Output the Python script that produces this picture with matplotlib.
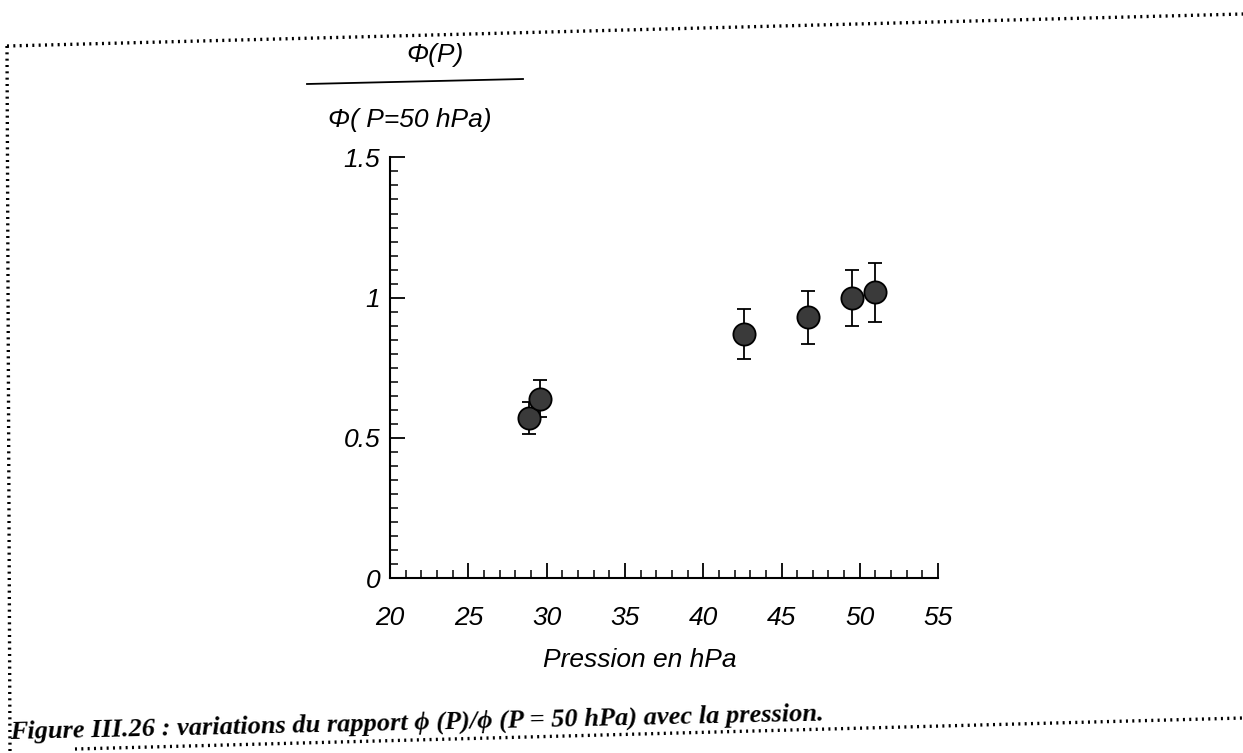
import numpy as np
import matplotlib
matplotlib.use("Agg")
import matplotlib.pyplot as plt
from matplotlib.ticker import MultipleLocator, FixedLocator
from matplotlib.lines import Line2D

# data
pression = [28.9, 29.6, 42.6, 46.7, 49.5, 51.0]
rapport = [0.57, 0.64, 0.87, 0.93, 1.00, 1.02]
erreur = [0.057, 0.065, 0.088, 0.094, 0.100, 0.105]

xticks = [20, 25, 30, 35, 40, 45, 50, 55]
yticks = [0, 0.5, 1, 1.5]
ytick_labels = ["0", "0.5", "1", "1.5"]

sans = ["Liberation Sans", "DejaVu Sans"]
serif = ["Liberation Serif", "DejaVu Serif"]

fig = plt.figure(figsize=(12.43, 7.53), dpi=100)
ax = fig.add_axes([0.3138, 0.232, 0.4409, 0.559])

ax.errorbar(pression, rapport, yerr=erreur, fmt='o', color='black',
            ecolor='black', elinewidth=1.3, capsize=5, capthick=1.3,
            markersize=16, markerfacecolor='#3a3a3a',
            markeredgecolor='black', markeredgewidth=1.3)

ax.set_xlim(20, 55)
ax.set_ylim(0, 1.5)
for s in ['top', 'right']:
    ax.spines[s].set_visible(False)
for s in ['left', 'bottom']:
    ax.spines[s].set_linewidth(1.5)

ax.xaxis.set_major_locator(FixedLocator(xticks))
ax.xaxis.set_minor_locator(MultipleLocator(1))
ax.yaxis.set_major_locator(FixedLocator(yticks))
ax.yaxis.set_minor_locator(MultipleLocator(0.05))
ax.tick_params(which='major', direction='in', length=11, width=1.3)
ax.tick_params(which='minor', direction='in', length=6, width=1.1)
ax.tick_params(axis='x', which='major', pad=20)
ax.tick_params(axis='y', which='major', pad=7)
ax.set_yticklabels(ytick_labels)
for lab in ax.get_xticklabels() + ax.get_yticklabels():
    lab.set_fontfamily(sans)
    lab.set_fontstyle('italic')
    lab.set_fontsize(19)

ax.set_xlabel("Pression en hPa", fontsize=19, style='italic',
              family=sans)
ax.xaxis.set_label_coords(0.455, -0.165)

# y label as a fraction above the axis
fig.text(435 / 1243, 1 - 55 / 753, "Φ(P)", fontsize=19, style='italic',
         family=sans, ha='center', va='center')
fig.add_artist(Line2D([307 / 1243, 523 / 1243],
                      [1 - 84 / 753, 1 - 79 / 753],
                      color='black', lw=1.3))
fig.text(410 / 1243, 1 - 120 / 753, "Φ( P=50 hPa)", fontsize=19,
         style='italic', family=sans, ha='center', va='center')

# dotted frame of the scanned page
dots = dict(color='black', lw=2.4, linestyle=(0, (0.6, 1.3)))
fig.add_artist(Line2D([7 / 1243, 1.0], [1 - 46 / 753, 1 - 14 / 753], **dots))
fig.add_artist(Line2D([7 / 1243, 10 / 1243], [1 - 46 / 753, 0.0], **dots))
fig.add_artist(Line2D([75 / 1243, 1.0], [1 - 749 / 753, 1 - 718 / 753], **dots))

fig.text(10 / 1243, 1 - 739 / 753,
         "Figure III.26 : variations du rapport ϕ (P)/ϕ (P = 50 hPa) avec la pression.",
         fontsize=19, weight='bold', style='italic', family=serif,
         ha='left', va='baseline', rotation=1.3, rotation_mode='anchor')

fig.savefig("out.png", dpi=100)
